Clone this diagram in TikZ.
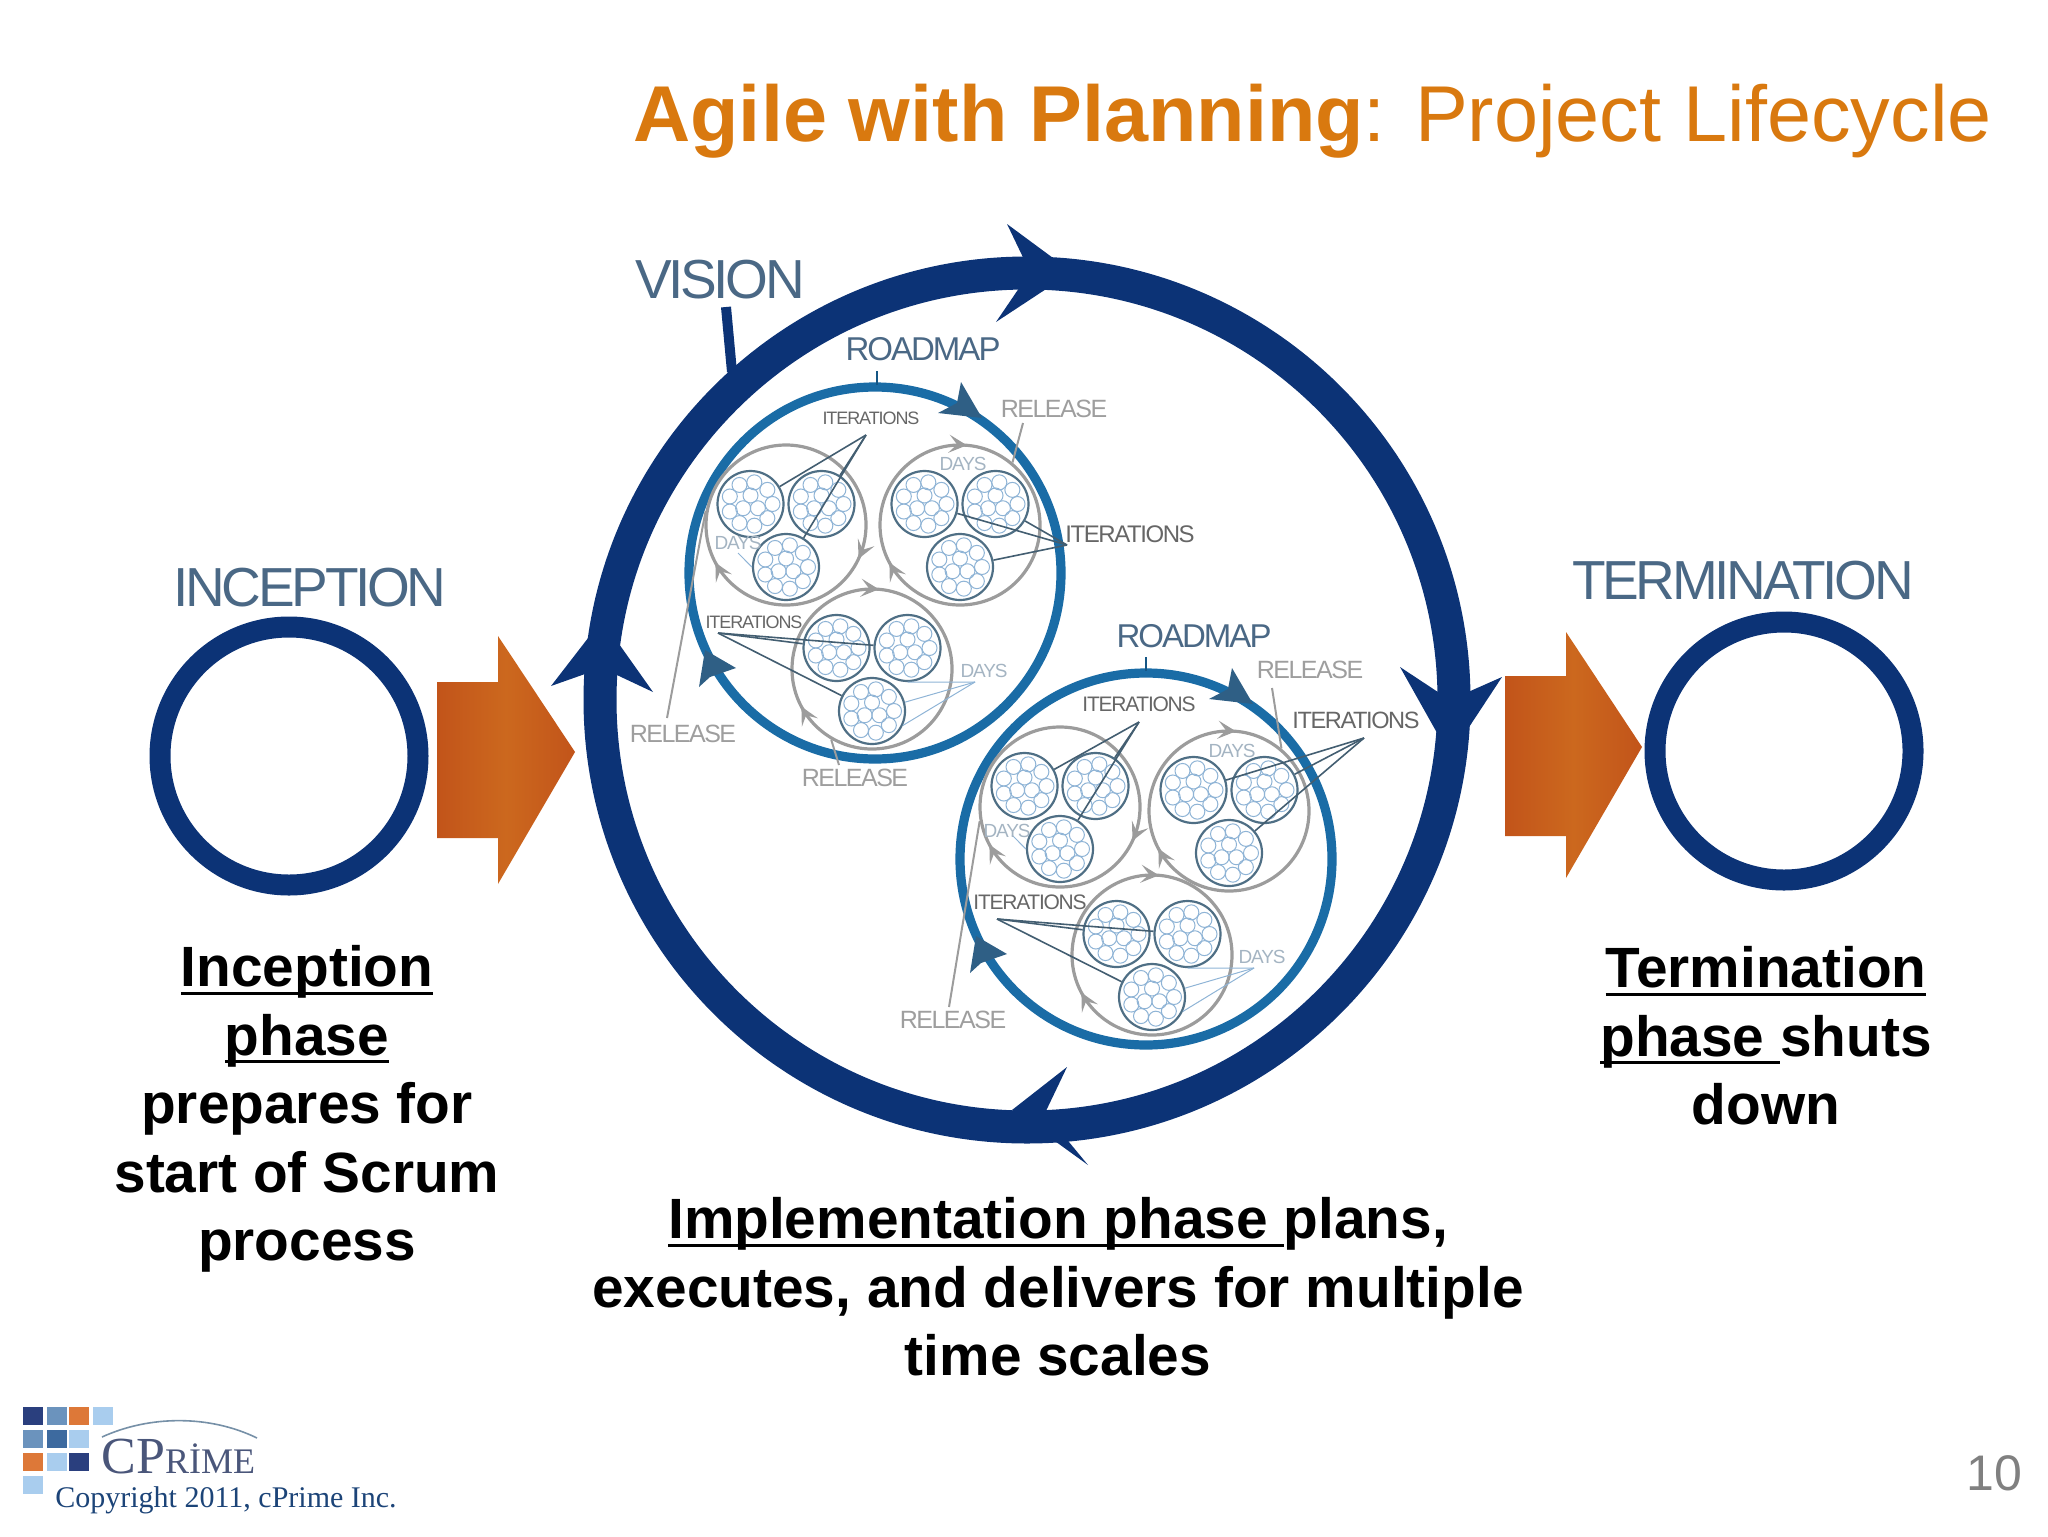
\documentclass[tikz,border=0pt]{standalone}
\usepackage{fontspec}
\setmainfont{Liberation Sans}
\newfontfamily\lblfont[LetterSpace=-6]{Liberation Sans}
\newfontfamily\logofont{Liberation Serif}
\usetikzlibrary{arrows.meta}

\definecolor{titleorange}{HTML}{D9790F}
\definecolor{bigblue}{HTML}{0C3376}
\definecolor{roadblue}{HTML}{1A6CA6}
\definecolor{roadtip}{HTML}{2F5F85}
\definecolor{slate}{HTML}{4A6885}
\definecolor{sprintgrey}{HTML}{9C9C9C}
\definecolor{iterline}{HTML}{4F6F85}
\definecolor{dayblue}{HTML}{8FB4D6}
\definecolor{orangedark}{HTML}{C2541A}
\definecolor{orangemid}{HTML}{CC681E}
\definecolor{copyblue}{HTML}{1C4478}

\definecolor{sqa}{HTML}{2A3F7E}
\definecolor{sqb}{HTML}{6B93BD}
\definecolor{sqc}{HTML}{DD7838}
\definecolor{sqd}{HTML}{A9CDEE}
\definecolor{sqe}{HTML}{3D6A9F}

\tikzset{
  phasering/.style={draw=bigblue,line width=10.5pt},
  bigring/.style={draw=bigblue,line width=16.5pt},
  roadring/.style={draw=roadblue,line width=4.6pt},
  sprintnode/.style={circle,draw=sprintgrey,line width=1.6pt,minimum size=80pt,inner sep=0pt},
  iternode/.style={circle,draw=iterline,line width=1.1pt,fill=white,minimum size=33pt,inner sep=0pt},
  daycircle/.style={draw=dayblue,line width=0.5pt},
  iterlead/.style={draw=iterline!85!black,line width=0.8pt},
  daylead/.style={draw=dayblue,line width=0.5pt},
  relead/.style={draw=sprintgrey,line width=1pt},
  tiparrow/.style={draw=sprintgrey,line width=1.6pt,-{Stealth[length=9pt,width=9pt,inset=4pt]}},
  biglabel/.style={text=slate,font=\lblfont\fontsize{27.5}{28}\selectfont},
  roadlabel/.style={text=slate,font=\lblfont\fontsize{16.5}{17}\selectfont},
  rellabel/.style={text=black!38,font=\lblfont\fontsize{12.5}{13}\selectfont},
  iterlabel/.style={text=black!60,font=\lblfont\fontsize{9}{10}\selectfont},
  iterbig/.style={text=black!60,font=\lblfont\fontsize{10.5}{11}\selectfont},
  daylabel/.style={text=slate!50,font=\lblfont\fontsize{9.5}{10}\selectfont},
  phasetext/.style={align=center,font=\bfseries\fontsize{28.4}{34.2}\selectfont},
}

\newcommand{\ultext}[1]{\setbox0\hbox{#1}\rlap{\rule[-4pt]{\wd0}{1.7pt}}\box0}

\newcommand{\sprint}[3]{%
  \node[sprintnode] (#1) at (#2,#3) {};
  \foreach \n/\dx/\dy in {a/-35.5/-21,b/35.5/-21,c/0/42} {
    \node[iternode] (#1\n) at ({#2+\dx},{#3+\dy}) {};
    \foreach \a in {0,40,...,320}
      \draw[daycircle] ([shift={(\a:22)}]#1\n.center) circle (7.5);
    \foreach \a in {30,150,270}
      \draw[daycircle] ([shift={(\a:8.5)}]#1\n.center) circle (7.5);
  }
}
\newcommand{\cycletip}[2]{\draw[tiparrow] ([shift={(#2:80)}]#1.center) arc (#2:#2+7:80);}

\begin{document}
\begin{tikzpicture}[x=0.5pt,y=-0.5pt]
\useasboundingbox (0,0) rectangle (2048,1536);

\node[anchor=base west,text=titleorange,font=\fontsize{39.6}{40}\selectfont,inner sep=0pt] (title) at (633,141) {\textbf{Agile with Planning}: Project Lifecycle};

\draw[phasering] (289,756) circle (129);
\draw[phasering] (1784,751) circle (129);
\node[biglabel] (inception) at (310,588) {INCEPTION};
\node[biglabel] (termination) at (1743,581) {TERMINATION};

\shade[left color=orangedark,right color=orangedark,middle color=orangemid] (437,682) -- (498,682) -- (498,636) -- (575,752) -- (498,884) -- (498,838) -- (437,838) -- cycle;
\shade[left color=orangedark,right color=orangedark,middle color=orangemid] (1505,676) -- (1566,676) -- (1566,632) -- (1642,747) -- (1566,878) -- (1566,836) -- (1505,836) -- cycle;

\draw[bigring] (1027,700) circle (427);
\fill[bigblue] (1007,224) -- (1072,272) -- (996,322) -- (1030,272) -- cycle;
\fill[bigblue] (1400,667) -- (1450,700) -- (1502,677) -- (1450,756) -- cycle;
\fill[bigblue] (1067,1067) -- (1045,1113) -- (1088,1165) -- (1012,1110) -- cycle;
\fill[bigblue] (551,686) -- (602,668) -- (653,692) -- (602,620) -- cycle;

\node[biglabel] (vision) at (720,280) {VISION};
\coordinate (visionfoot) at (732,372);
\draw[bigblue,line width=5pt] (726,307) -- (visionfoot);

\draw[roadring] (875,573) circle (186);
\draw[roadring] (1146,859) circle (186);
\foreach \sx/\sy in {0/0,271/286} {
  \begin{scope}[shift={(\sx,\sy)}]
    \fill[roadtip] (961,382) -- (957,403) -- (938,413) -- (982,418) -- cycle;
    \fill[roadtip] (699,687) -- (710,677) -- (736,668) -- (705,650) -- cycle;
  \end{scope}
}

\node[roadlabel] (roadmapa) at (923,349) {ROADMAP};
\node[roadlabel] (roadmapb) at (1194,636) {ROADMAP};
\coordinate (roadfoota) at (877,385);
\coordinate (roadfootb) at (1146,671);
\draw[roadblue!80!black,line width=1.4pt] (roadfoota) -- +(0,-14);
\draw[roadblue!80!black,line width=1.4pt] (roadfootb) -- +(0,-14);

\sprint{ra}{786}{525}
\sprint{rb}{960}{525}
\sprint{rc}{872}{669}
\sprint{sa}{1060}{807}
\sprint{sb}{1229}{811}
\sprint{sc}{1152}{955}

\foreach \g in {ra,sa} {
  \cycletip{\g}{18}
  \cycletip{\g}{145}
}
\foreach \g in {rb,rc,sb,sc} {
  \cycletip{\g}{-92}
  \cycletip{\g}{145}
}

\coordinate (itera) at (866,435);
\coordinate (iterb) at (1067,545);
\coordinate (iterc) at (718,633);
\coordinate (iterd) at (1139,722);
\coordinate (itere) at (1364,738);
\coordinate (iterf) at (997,919);
\foreach \ap/\g in {itera/ra,iterb/rb,iterc/rc,iterd/sa,itere/sb,iterf/sc} {
  \foreach \n in {a,b,c}
    \draw[iterlead] (\ap) -- (\g\n);
}

\coordinate (dayc) at (975,682);
\coordinate (dayf) at (1254,968);
\foreach \ap/\g in {dayc/rc,dayf/sc} {
  \draw[daylead] (\ap) -- (\g b.south);
  \draw[daylead] (\ap) -- (\g c.15);
  \draw[daylead] (\ap) -- (\g c.-25);
}
\coordinate (daya) at (738,553);
\coordinate (dayd) at (1012,835);
\draw[daylead] (daya) -- (rac.west);
\draw[daylead] (dayd) -- (sac.west);

\node[rellabel] (relone) at (1054,409) {RELEASE};
\node[rellabel] (reltwo) at (683,734) {RELEASE};
\node[rellabel] (relthree) at (855,778) {RELEASE};
\node[rellabel] (relfour) at (1310,670) {RELEASE};
\node[rellabel] (relfive) at (953,1020) {RELEASE};
\coordinate (relstarta) at (1023,423);
\coordinate (relstartb) at (667,718);
\coordinate (relstartc) at (839,765);
\coordinate (relstartd) at (1272,688);
\coordinate (relstarte) at (949,1007);
\draw[relead] (relstarta) -- (rb.50);
\draw[relead] (relstartb) -- (ra.170);
\draw[relead] (relstartc) -- (rc.-120);
\draw[relead] (relstartd) -- (sb.50);
\draw[relead] (relstarte) -- (sa.190);

\node[iterlabel] (iterlabela) at (871,418) {ITERATIONS};
\node[iterbig,font=\lblfont\fontsize{12}{12}\selectfont] (iterlabelb) at (1130,534) {ITERATIONS};
\node[iterlabel] (iterlabelc) at (754,622) {ITERATIONS};
\node[iterbig] (iterlabeld) at (1139,704) {ITERATIONS};
\node[iterbig,font=\lblfont\fontsize{11.8}{12}\selectfont] (iterlabele) at (1356,720) {ITERATIONS};
\node[iterbig] (iterlabelf) at (1030,902) {ITERATIONS};

\node[daylabel] (daylabela) at (963,464) {DAYS};
\node[daylabel] (daylabelb) at (738,543) {DAYS};
\node[daylabel] (daylabelc) at (984,671) {DAYS};
\node[daylabel] (daylabeld) at (1232,751) {DAYS};
\node[daylabel] (daylabele) at (1007,831) {DAYS};
\node[daylabel] (daylabelf) at (1262,957) {DAYS};

\node[phasetext] (inceptiontext) at (307,1109) {\ultext{Inception}\\\ultext{phase}\\prepares for\\start of Scrum\\process};
\node[phasetext] (terminationtext) at (1766,1036) {\ultext{Termination}\\\ultext{phase\ }shuts\\down};
\node[phasetext] (implementationtext) at (1058,1287) {\ultext{Implementation phase\ }plans,\\executes, and delivers for multiple\\time scales};

\foreach \x/\y/\c in {23/1407/sqa,47/1407/sqb,69/1407/sqc,93/1407/sqd,23/1430/sqb,47/1430/sqe,69/1430/sqd,23/1453/sqc,47/1453/sqd,69/1453/sqa,23/1476/sqd}
  \fill[\c] (\x,\y) rectangle +(20,18);
\draw[black!30!sqd,line width=0.8pt] (102,1437) .. controls (150,1415) and (210,1415) .. (257,1438);
\node[anchor=base west,inner sep=0pt,text=sqa!70!black!80,font=\logofont] (logo) at (101,1473) {\fontsize{26}{26}\selectfont CP\fontsize{18}{18}\selectfont RİME};
\node[anchor=base west,inner sep=0pt,text=copyblue,font=\logofont\fontsize{15}{16}\selectfont] (copyright) at (55,1507) {Copyright 2011, cPrime Inc.};
\node[text=black!50,font=\fontsize{25}{25}\selectfont] (pagenum) at (1994,1473) {10};
\end{tikzpicture}
\end{document}
